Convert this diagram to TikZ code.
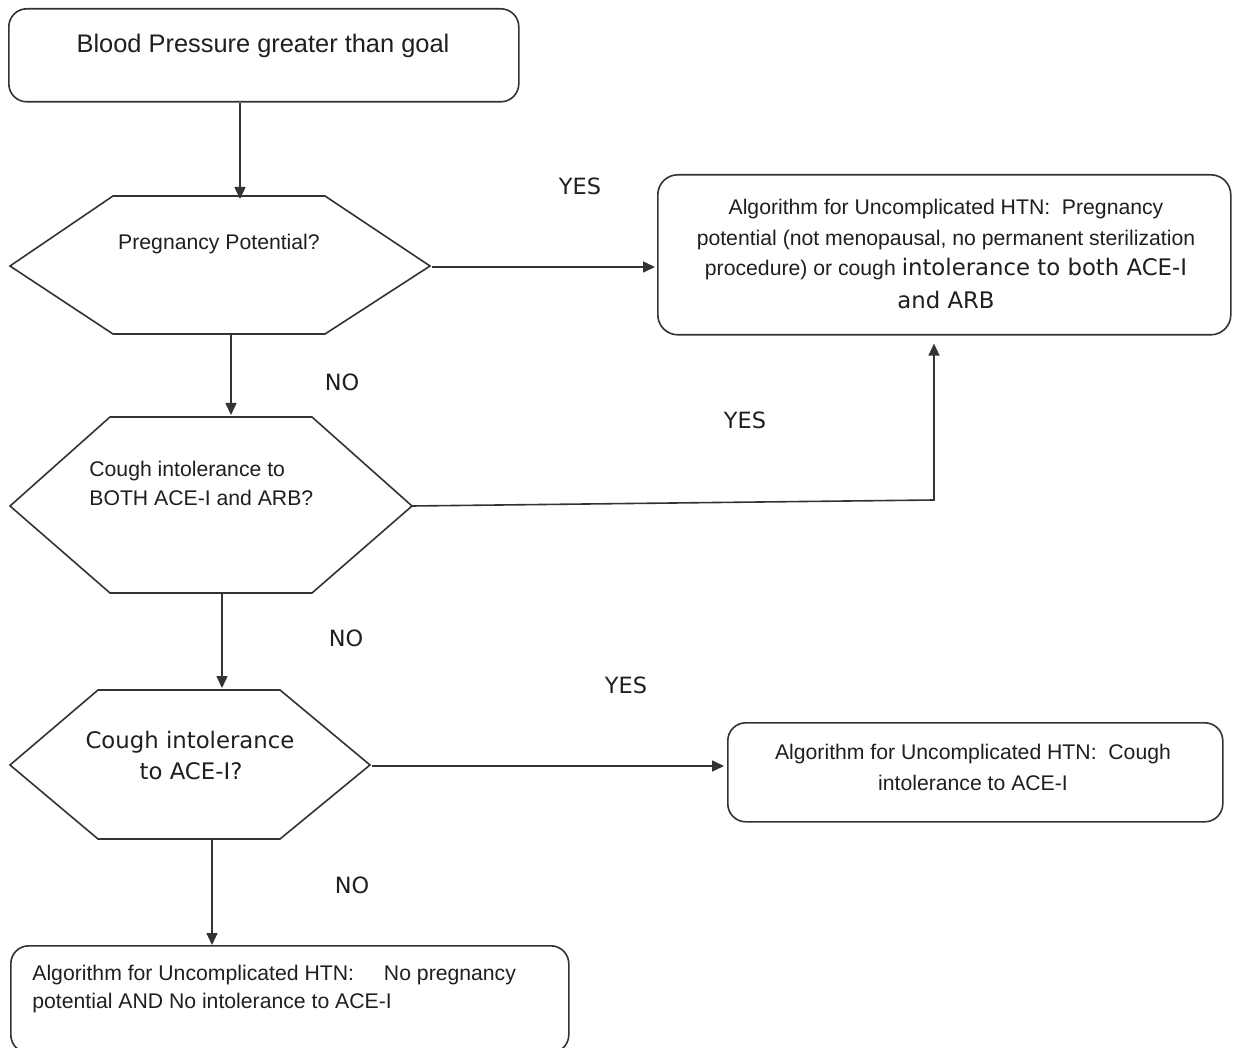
\documentclass[tikz,border=0pt]{standalone}
\usepackage{fontspec}
\setmainfont{Liberation Sans}
\newfontfamily\dv{DejaVu Sans}
\usetikzlibrary{arrows.meta}
\begin{document}
\begin{tikzpicture}[x=0.5pt,y=-0.5pt,
  ln/.style={draw=black!80, line width=0.8pt},
  box/.style={ln, rounded corners=9pt, inner sep=0pt},
  ar/.style={ln, -{Triangle[length=6pt,width=5.5pt]}},
  txt/.style={font=\fontsize{10.6}{14}\selectfont, text=black!88, inner sep=0pt},
  dtxt/.style={font=\dv\fontsize{11.4}{14}\selectfont, text=black!88, inner sep=0pt},
  lbl/.style={font=\dv\fontsize{11.2}{13}\selectfont, text=black!88, inner sep=0pt, anchor=base},
]
\useasboundingbox (0,0) rectangle (1233,1048);
\clip (0,0) rectangle (1233,1048);
\fill[white] (0,0) rectangle (1233,1048);

% ---- boxes
\node[box, minimum width=255pt, minimum height=46.5pt, anchor=north west] (b1) at (8,8) {};
\node[box, rounded corners=10pt, minimum width=286.5pt, minimum height=80pt, anchor=north west] (b2) at (657,174) {};
\node[box, minimum width=247.5pt, minimum height=49.5pt, anchor=north west] (b4) at (727,722) {};
\node[box, minimum width=279pt, minimum height=53.5pt, anchor=north west] (b5) at (10,945) {};

% ---- hexagons
\draw[ln] (10,266) -- (113,196) -- (325,196) -- (430,266) -- (325,334) -- (113,334) -- cycle;
\draw[ln] (10,506) -- (110,417) -- (312,417) -- (412,506) -- (312,593) -- (110,593) -- cycle;
\draw[ln] (10,765) -- (98,690) -- (280,690) -- (370,765) -- (280,839) -- (98,839) -- cycle;

% ---- texts
\node[txt, font=\fontsize{12.7}{15}\selectfont, anchor=base] (t1) at (263,53) {Blood Pressure greater than goal};

\node[txt, anchor=base] (h1t) at (219,250) {Pregnancy Potential?};

\node[txt, anchor=base west] (h2a) at (89,477) {Cough intolerance to};
\node[txt, anchor=base west] (h2b) at (89,506) {BOTH ACE-I and ARB?};

\node[dtxt, anchor=base] (h3a) at (190,748) {Cough intolerance};
\node[dtxt, anchor=base] (h3b) at (191,779) {to ACE-I?};

\node[txt, anchor=base] (b2a) at (946,215) {Algorithm for Uncomplicated HTN:\ \ Pregnancy};
\node[txt, anchor=base] (b2b) at (946,246) {potential (not menopausal, no permanent sterilization};
\node[txt, anchor=base] (b2c) at (946,276) {procedure) or cough {\dv\fontsize{11.4}{14}\selectfont intolerance to both ACE-I}};
\node[dtxt, anchor=base] (b2d) at (946,309) {and ARB};

\node[txt, anchor=base] (b4a) at (973,759) {Algorithm for Uncomplicated HTN:\ \ Cough};
\node[txt, anchor=base] (b4b) at (973,790) {intolerance to ACE-I};

\node[txt, anchor=base west] (b5a) at (32,980) {Algorithm for Uncomplicated HTN:\hspace{15pt}No pregnancy};
\node[txt, anchor=base west] (b5b) at (32,1008) {potential AND No intolerance to ACE-I};

% ---- labels
\node[lbl] (yes1) at (580,195) {YES};
\node[lbl] (no1) at (342,391) {NO};
\node[lbl] (yes2) at (745,429) {YES};
\node[lbl] (no2) at (346,646) {NO};
\node[lbl] (yes3) at (626,693) {YES};
\node[lbl] (no3) at (352,893) {NO};

% ---- connector points
\coordinate (h1n) at (240,199);
\coordinate (h1e) at (432,267);
\coordinate (h1s) at (231,334);
\coordinate (h2n) at (231,415);
\coordinate (h2e) at (412,506);
\coordinate (k) at (934,500);
\coordinate (h2s) at (222,593);
\coordinate (h3n) at (222,688);
\coordinate (h3e) at (372,766);
\coordinate (h3s) at (212,839);

% ---- connectors
\draw[ar] (b1.south -| h1n) -- (h1n);
\draw[ar, shorten >=1pt] (h1e) -- (h1e -| b2.west);
\draw[ar] (h1s) -- (h2n);
\draw[ar, shorten >=4pt] (h2e) -- (k) -- (k |- b2.south);
\draw[ar] (h2s) -- (h3n);
\draw[ar, shorten >=1.5pt] (h3e) -- (h3e -| b4.west);
\draw[ar] (h3s) -- (h3s |- b5.north);
\end{tikzpicture}
\end{document}
